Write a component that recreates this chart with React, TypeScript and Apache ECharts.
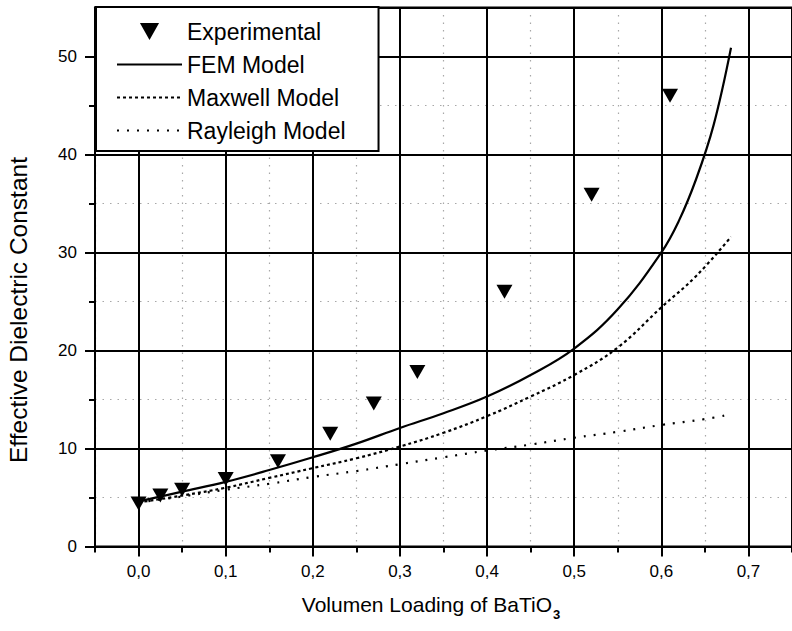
import React, { useEffect, useRef } from "react";
import * as echarts from "echarts";

// Experimental points
const expX = [0, 0.025, 0.05, 0.1, 0.16, 0.22, 0.27, 0.32, 0.42, 0.52, 0.61];
const expY = [4.4, 5.2, 5.8, 6.9, 8.7, 11.5, 14.6, 17.8, 26.0, 35.9, 46.0];

// FEM model curve
const femX = [0, 0.05, 0.1, 0.15, 0.2, 0.25, 0.3, 0.35, 0.4, 0.45, 0.5, 0.55, 0.6, 0.62, 0.64, 0.66, 0.68];
const femY = [4.6, 5.6, 6.6, 7.8, 9.1, 10.5, 12.1, 13.6, 15.3, 17.5, 20.2, 24.2, 30.0, 33.2, 37.5, 43.0, 50.9];

// Maxwell model curve
const maxX = [0, 0.05, 0.1, 0.15, 0.2, 0.25, 0.3, 0.35, 0.4, 0.45, 0.5, 0.55, 0.6, 0.64, 0.68];
const maxY = [4.5, 5.2, 6.0, 7.0, 8.0, 9.0, 10.2, 11.6, 13.3, 15.3, 17.5, 20.3, 24.4, 27.6, 31.6];

// Rayleigh model curve
const rayX = [0, 0.05, 0.1, 0.15, 0.2, 0.25, 0.3, 0.35, 0.4, 0.45, 0.5, 0.55, 0.6, 0.65, 0.675];
const rayY = [4.5, 5.1, 5.8, 6.4, 7.1, 7.7, 8.4, 9.1, 9.8, 10.4, 11.1, 11.7, 12.4, 13.0, 13.4];

const seriesNames = ["Experimental", "FEM Model", "Maxwell Model", "Rayleigh Model"];
const xAxisTitle = "Volumen Loading of BaTiO";
const xAxisTitleSub = "3";
const yAxisTitle = "Effective Dielectric Constant";

const FONT = '"Liberation Sans", Arial, sans-serif';

const zip = (xs: number[], ys: number[]) => xs.map((x, i) => [x, ys[i]]);

export default function App() {
  const ref = useRef<HTMLDivElement>(null);
  useEffect(() => {
    if (!ref.current) return;
    const chart = echarts.init(ref.current, undefined, { renderer: "svg" });
    const G_LEFT = 95;
    const G_TOP = 7.5;
    const G_W = 705;
    const G_H = 539;
    const unitY = G_H / 55;
    const minorLine = { show: true, lineStyle: { color: "#a8a8a8", width: 1.2, type: [1.5, 6] as any } };
    const hiddenSymbol = { opacity: 0 };
    chart.setOption({
      animation: false,
      backgroundColor: "#fff",
      grid: [
        { left: G_LEFT, top: G_TOP, width: G_W, height: G_H, show: true, borderColor: "#000", borderWidth: 2, z: 1 },
        { left: G_LEFT, top: G_TOP + 10 * unitY, width: G_W, height: 40 * unitY, show: false },
      ],
      xAxis: [
        {
          type: "value", gridIndex: 0, position: "bottom", min: -0.05, max: 0.75,
          splitNumber: 8, minInterval: 0.1, maxInterval: 0.1,
          axisLine: { show: true, onZero: false, lineStyle: { color: "#000", width: 2 } },
          axisTick: { show: true, inside: false, length: 10, lineStyle: { color: "#000", width: 2 } },
          axisLabel: {
            show: true, margin: 16, color: "#000", fontFamily: FONT, fontSize: 17,
            showMinLabel: false, showMaxLabel: false,
            formatter: (v: number) => v.toFixed(1).replace(".", ","),
          },
          splitLine: { show: true, lineStyle: { color: "#000", width: 2 } },
          z: 3,
        },
        {
          type: "value", gridIndex: 0, position: "bottom", min: -0.05, max: 0.75, interval: 0.1,
          axisLine: { show: false, onZero: false },
          axisTick: { show: true, inside: false, length: 6, lineStyle: { color: "#000", width: 2 } },
          axisLabel: { show: false },
          splitLine: minorLine,
          z: 2,
        },
        {
          type: "value", gridIndex: 1, min: -0.05, max: 0.75, show: false,
          splitLine: { show: false },
        },
      ],
      yAxis: [
        {
          type: "value", gridIndex: 0, position: "left", min: 0, max: 55,
          splitNumber: 5, minInterval: 10, maxInterval: 10,
          axisLine: { show: true, onZero: false, lineStyle: { color: "#000", width: 2 } },
          axisTick: { show: true, inside: false, length: 10, lineStyle: { color: "#000", width: 2 } },
          axisLabel: { show: true, margin: 18, color: "#000", fontFamily: FONT, fontSize: 17, showMaxLabel: false },
          splitLine: { show: true, lineStyle: { color: "#000", width: 2 } },
          z: 3,
        },
        {
          type: "value", gridIndex: 1, position: "left", min: 5, max: 45, interval: 10,
          axisLine: { show: false, onZero: false },
          axisTick: { show: true, inside: false, length: 6, lineStyle: { color: "#000", width: 2 } },
          axisLabel: { show: false },
          splitLine: minorLine,
          z: 2,
        },
      ],
      legend: {
        show: true,
        orient: "vertical",
        left: 96,
        top: 7,
        padding: [13, 33, 9, 20],
        itemWidth: 65,
        itemHeight: 17,
        itemGap: 10,
        backgroundColor: "#fff",
        borderColor: "#000",
        borderWidth: 2,
        borderRadius: 0,
        textStyle: { color: "#000", fontFamily: FONT, fontSize: 23 },
        data: [
          { name: seriesNames[0], icon: "path://M0,0L18,0L9,16Z", itemStyle: { opacity: 1, color: "#000" } },
          { name: seriesNames[1], itemStyle: hiddenSymbol },
          { name: seriesNames[2], itemStyle: hiddenSymbol },
          { name: seriesNames[3], itemStyle: hiddenSymbol },
        ],
        z: 10,
      },
      graphic: [
        {
          type: "text",
          x: 18,
          y: 310,
          rotation: Math.PI / 2,
          style: {
            text: yAxisTitle,
            font: `24.5px ${FONT}`,
            fill: "#000",
            textAlign: "center",
            textVerticalAlign: "middle",
          },
        },
        {
          type: "text",
          x: 431,
          y: 606,
          style: {
            text: `{a|${xAxisTitle}}{s|${xAxisTitleSub}}`,
            fill: "#000",
            textAlign: "center",
            textVerticalAlign: "middle",
            rich: {
              a: { fontFamily: FONT, fontSize: 21, lineHeight: 25, verticalAlign: "top", fill: "#000" },
              s: { fontFamily: FONT, fontSize: 13, fontWeight: "bold", lineHeight: 13, verticalAlign: "top", padding: [14, 0, 0, 1], fill: "#000" },
            },
          },
        },
      ],
      series: [
        {
          name: seriesNames[0],
          type: "scatter",
          xAxisIndex: 0, yAxisIndex: 0,
          symbol: "triangle",
          symbolRotate: 180,
          symbolSize: [16, 14],
          itemStyle: { color: "#000", opacity: 1 },
          data: zip(expX, expY),
          z: 5,
        },
        {
          name: seriesNames[1],
          type: "line",
          xAxisIndex: 0, yAxisIndex: 0,
          showSymbol: false, symbol: "none",
          smooth: 0.4,
          lineStyle: { color: "#000", width: 2.2, type: "solid" },
          itemStyle: { color: "#000" },
          data: zip(femX, femY),
          z: 4,
        },
        {
          name: seriesNames[2],
          type: "line",
          xAxisIndex: 0, yAxisIndex: 0,
          showSymbol: false, symbol: "none",
          smooth: 0.4,
          lineStyle: { color: "#000", width: 2.2, type: [3, 3] },
          itemStyle: { color: "#000" },
          data: zip(maxX, maxY),
          z: 4,
        },
        {
          name: seriesNames[3],
          type: "line",
          xAxisIndex: 0, yAxisIndex: 0,
          showSymbol: false, symbol: "none",
          smooth: 0.4,
          lineStyle: { color: "#000", width: 2.2, type: [2, 8] },
          itemStyle: { color: "#000" },
          data: zip(rayX, rayY),
          z: 4,
        },
      ],
    });
    return () => chart.dispose();
  }, []);
  return <div ref={ref} style={{ position: "fixed", left: 0, top: 0, width: 792, height: 631 }} />;
}
